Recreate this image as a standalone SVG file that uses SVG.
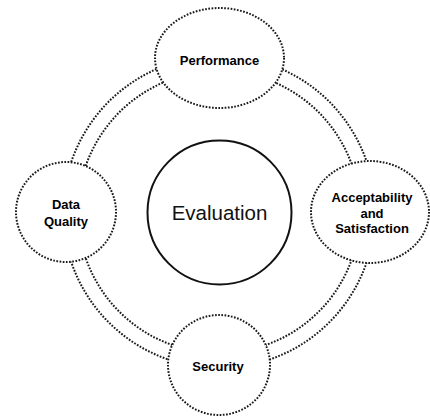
<svg xmlns="http://www.w3.org/2000/svg" width="430" height="417" viewBox="0 0 430 417">
<style>
.ring{fill:none;stroke:#1a1a1a;stroke-width:2;stroke-dasharray:1.7 1.5}
.node{fill:#fff;stroke:#1a1a1a;stroke-width:2;stroke-dasharray:1.7 1.5}
.lbl{font-family:"Liberation Sans",Arial,sans-serif;font-weight:bold;font-size:13px;fill:#000;text-anchor:middle}
</style>
<rect width="430" height="417" fill="#fff"/>
<g id="connectors">
<circle class="ring" cx="219" cy="212" r="156"/>
<circle class="ring" cx="219" cy="212" r="141"/>
</g>
<g id="evaluation">
<circle cx="219.5" cy="212.5" r="72" fill="#fff" stroke="#111" stroke-width="2"/>
<text x="219.5" y="220" font-family="Liberation Sans, Arial, sans-serif" font-size="20.5" text-anchor="middle" fill="#111">Evaluation</text>
</g>
<g id="performance">
<ellipse class="node" cx="219.5" cy="58" rx="64.5" ry="50"/>
<text class="lbl" x="219.5" y="65">Performance</text>
</g>
<g id="data-quality">
<circle class="node" cx="66" cy="212" r="50"/>
<text class="lbl" x="66" y="209">Data</text>
<text class="lbl" x="66" y="226">Quality</text>
</g>
<g id="acceptability">
<ellipse class="node" cx="370" cy="212" rx="59" ry="51"/>
<text class="lbl" x="372" y="202">Acceptability</text>
<text class="lbl" x="372" y="217.5">and</text>
<text class="lbl" x="372" y="233">Satisfaction</text>
</g>
<g id="security">
<ellipse class="node" cx="219" cy="365" rx="51" ry="50"/>
<text class="lbl" x="218" y="371">Security</text>
</g>
</svg>
